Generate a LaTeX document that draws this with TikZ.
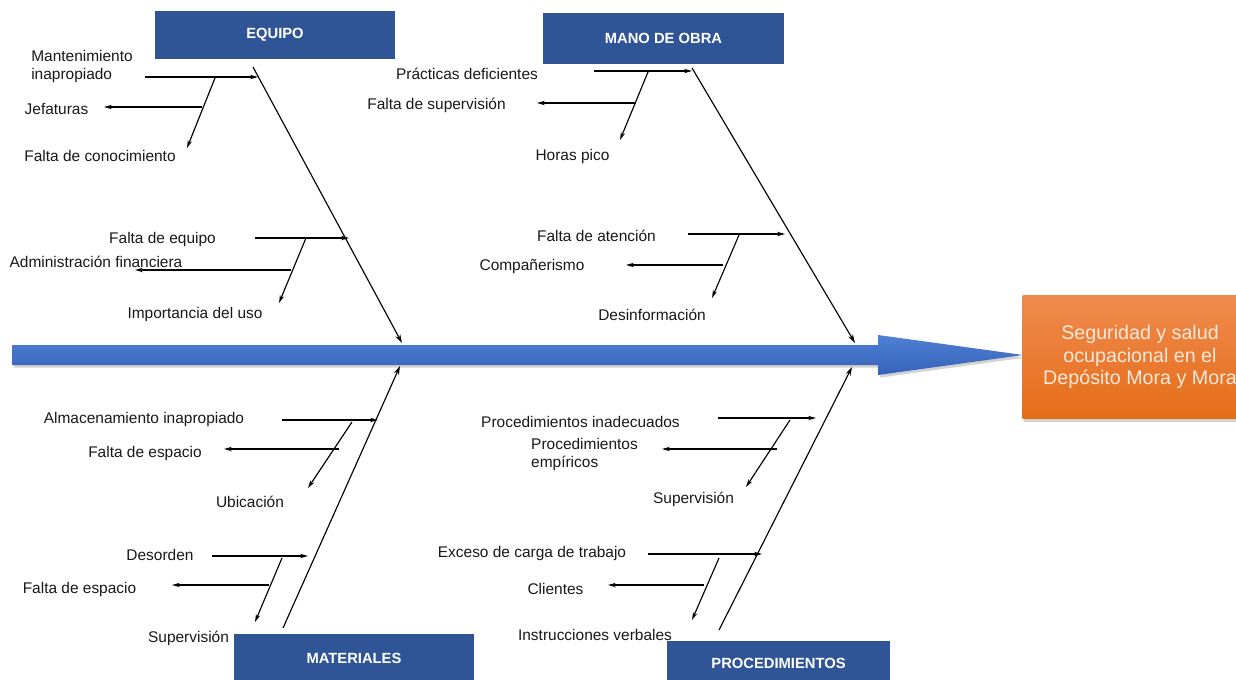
\documentclass[tikz,border=0pt]{standalone}
\usepackage{fontspec}
\setmainfont{Liberation Sans}
\usetikzlibrary{arrows.meta,shadows}
\definecolor{catblue}{HTML}{2F5597}
\definecolor{spinetop}{HTML}{4F81D4}
\definecolor{spinebot}{HTML}{3562B9}
\definecolor{efftop}{HTML}{F08B4F}
\definecolor{effbot}{HTML}{E46C17}
\definecolor{efftext}{HTML}{FDE9DC}
\begin{document}
\begin{tikzpicture}[x=0.02cm,y=-0.02cm,
        cat/.style={fill=catblue,text=white,inner sep=0,font=\bfseries\fontsize{8.4}{10}\selectfont},
        lbl/.style={inner sep=0,yshift=-1pt,align=left,text=black!90,font=\fontsize{8.8}{10.2}\selectfont},
        bone/.style={line width=0.65pt,-{Stealth[length=5pt,width=3pt]}},
        sub/.style={line width=0.65pt,-{Stealth[length=4.5pt,width=2.5pt]}},
        effect/.style={top color=efftop,bottom color=effbot,text=efftext,align=center,
            font=\fontsize{11.2}{12.6}\selectfont,
            drop shadow={opacity=0.35,shadow xshift=1pt,shadow yshift=-1.5pt}}]
        \useasboundingbox (0,0) rectangle (1236,679);
        \fill[white] (0,0) rectangle (1236,679);
        % spine and effect
        \path[top color=spinetop,bottom color=spinebot,drop shadow={opacity=0.35,shadow xshift=1pt,shadow yshift=-1.5pt}]
            (12,345) -- (878,345) -- (878,335) -- (1023,355) -- (878,375) -- (878,365) -- (12,365) -- cycle;
        \node[effect,minimum width=4.7cm,minimum height=2.48cm] (efecto) at (1140,357) {Seguridad y salud\\ocupacional en el\\Depósito Mora y Mora};
        % categories
        \node[cat,minimum width=4.82cm,minimum height=0.96cm] (equipo) at (275,35) {EQUIPO};
        \node[cat,minimum width=4.82cm,minimum height=1.02cm] (mano) at (663.5,38.5) {MANO DE OBRA};
        \node[cat,minimum width=4.8cm,minimum height=0.96cm] (materiales) at (354,658) {MATERIALES};
        \node[cat,minimum width=4.46cm,minimum height=0.88cm] (proced) at (778.5,663) {PROCEDIMIENTOS};
        % bones
        \coordinate (eq1) at (253,67);
        \coordinate (eq2) at (402,343);
        \coordinate (mo1) at (692,68);
        \coordinate (mo2) at (855,343);
        \coordinate (ma1) at (283,628);
        \coordinate (ma2) at (400,366);
        \coordinate (pr1) at (719,630);
        \coordinate (pr2) at (852,367);
        \draw[bone] (eq1) -- (eq2);
        \draw[bone] (mo1) -- (mo2);
        \draw[bone] (ma1) -- (ma2);
        \draw[bone] (pr1) -- (pr2);
        % equipo
        \coordinate (a1) at (145,77);  \coordinate (a2) at (258,77);
        \coordinate (a3) at (215,78);  \coordinate (a4) at (187,148);
        \coordinate (a5) at (202,107); \coordinate (a6) at (104,107);
        \coordinate (b1) at (255,238); \coordinate (b2) at (349,238);
        \coordinate (b3) at (306,238); \coordinate (b4) at (279,303);
        \coordinate (b5) at (291,270); \coordinate (b6) at (135,270);
        \draw[sub] (a1) -- (a2);
        \draw[sub] (a3) -- (a4);
        \draw[sub] (a5) -- (a6);
        \draw[sub] (b1) -- (b2);
        \draw[sub] (b3) -- (b4);
        \draw[sub] (b5) -- (b6);
        \node[lbl] (mant) at (82,65) {Mantenimiento\\inapropiado};
        \node[lbl] (jef) at (56.5,107) {Jefaturas};
        \node[lbl] (conoc) at (100,154) {Falta de conocimiento};
        \node[lbl] (faleq) at (162.5,238) {Falta de equipo};
        \node[lbl] (admin) at (96,260) {Administración financiera};
        \node[lbl] (impor) at (195,313) {Importancia del uso};
        % mano de obra
        \coordinate (c1) at (594,71);  \coordinate (c2) at (692,71);
        \coordinate (c3) at (648,72);  \coordinate (c4) at (620,140);
        \coordinate (c5) at (635,103); \coordinate (c6) at (537,103);
        \coordinate (d1) at (688,234); \coordinate (d2) at (785,234);
        \coordinate (d3) at (739,235); \coordinate (d4) at (712,298);
        \coordinate (d5) at (723,265); \coordinate (d6) at (626,265);
        \draw[sub] (c1) -- (c2);
        \draw[sub] (c3) -- (c4);
        \draw[sub] (c5) -- (c6);
        \draw[sub] (d1) -- (d2);
        \draw[sub] (d3) -- (d4);
        \draw[sub] (d5) -- (d6);
        \node[lbl] (pract) at (467,72) {Prácticas deficientes};
        \node[lbl] (falsup) at (436.5,104) {Falta de supervisión};
        \node[lbl] (horas) at (572.5,155) {Horas pico};
        \node[lbl] (aten) at (596.5,234) {Falta de atención};
        \node[lbl] (compa) at (532,265) {Compañerismo};
        \node[lbl] (desinf) at (652,313) {Desinformación};
        % materiales
        \coordinate (e1) at (282,420); \coordinate (e2) at (378,420);
        \coordinate (e3) at (352,422); \coordinate (e4) at (308,488);
        \coordinate (e5) at (339,449); \coordinate (e6) at (224,449);
        \coordinate (f1) at (212,556); \coordinate (f2) at (308,556);
        \coordinate (f3) at (282,558); \coordinate (f4) at (255,622);
        \coordinate (f5) at (269,585); \coordinate (f6) at (172,585);
        \draw[sub] (e1) -- (e2);
        \draw[sub] (e3) -- (e4);
        \draw[sub] (e5) -- (e6);
        \draw[sub] (f1) -- (f2);
        \draw[sub] (f3) -- (f4);
        \draw[sub] (f5) -- (f6);
        \node[lbl] (almac) at (144,418) {Almacenamiento inapropiado};
        \node[lbl] (esp1) at (145,452) {Falta de espacio};
        \node[lbl] (ubic) at (250,500) {Ubicación};
        \node[lbl] (desor) at (160,553) {Desorden};
        \node[lbl] (esp2) at (79.5,588) {Falta de espacio};
        \node[lbl] (superv1) at (188.5,637) {Supervisión};
        % procedimientos
        \coordinate (g1) at (718,418); \coordinate (g2) at (816,418);
        \coordinate (g3) at (790,420); \coordinate (g4) at (746,487);
        \coordinate (g5) at (777,449); \coordinate (g6) at (662,449);
        \coordinate (h1) at (648,554); \coordinate (h2) at (762,554);
        \coordinate (h3) at (719,558); \coordinate (h4) at (692,620);
        \coordinate (h5) at (704,585); \coordinate (h6) at (608,585);
        \draw[sub] (g1) -- (g2);
        \draw[sub] (g3) -- (g4);
        \draw[sub] (g5) -- (g6);
        \draw[sub] (h1) -- (h2);
        \draw[sub] (h3) -- (h4);
        \draw[sub] (h5) -- (h6);
        \node[lbl] (pinad) at (580.5,420) {Procedimientos inadecuados};
        \node[lbl] (pemp) at (584.5,453) {Procedimientos\\empíricos};
        \node[lbl] (superv2) at (693.5,498) {Supervisión};
        \node[lbl] (exceso) at (532,552) {Exceso de carga de trabajo};
        \node[lbl] (clien) at (555.5,587) {Clientes};
        \node[lbl] (instr) at (595,633) {Instrucciones verbales};
    \end{tikzpicture}
\end{document}
